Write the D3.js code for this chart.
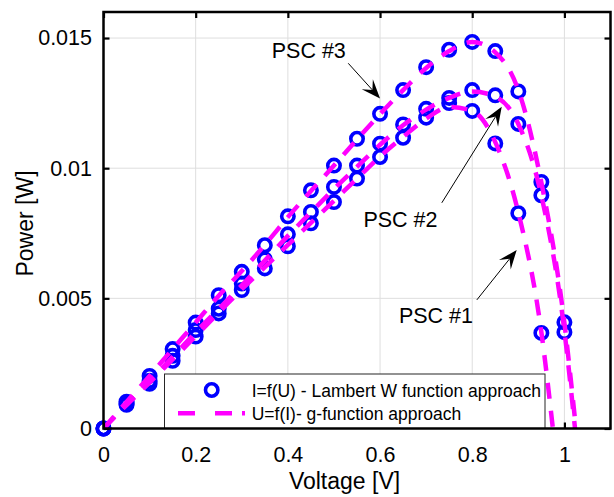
<!DOCTYPE html>
<html lang="en">
<head>
<meta charset="utf-8">
<title>PSC power curves</title>
<script src="https://d3js.org/d3.v7.min.js"></script>
<style>
	body {
		margin: 0;
		background: #fff;
	}
	svg {
		display: block;
		font-family: "Liberation Sans", Arial, sans-serif;
	}
	.grid line {
		stroke: #dedede;
		stroke-width: 1;
	}
</style>
</head>
<body>
<script>
	// measured voltages [V]
	var voltage = [0, 0.05, 0.1, 0.15, 0.2, 0.25, 0.3, 0.35, 0.4, 0.45, 0.5,
		0.55, 0.6, 0.65, 0.7, 0.75, 0.8, 0.85, 0.9, 0.95, 1.0];

	// power in mW, I=f(U) Lambert W approach (circles)
	var psc1 = [0, 0.91, 1.72, 2.6, 3.53, 4.42, 5.32, 6.15, 7.0, 7.88, 8.7,
		9.6, 10.43, 11.17, 11.94, 12.5, 12.2, 10.95, 8.27, 3.67];
	var psc2 = [0, 0.95, 1.83, 2.79, 3.78, 4.6, 5.57, 6.5, 7.46, 8.32, 9.28,
		10.1, 10.94, 11.68, 12.28, 12.7, 13.0, 12.8, 11.7, 8.96, 3.7];
	var psc3 = [0, 1.03, 2.02, 3.05, 4.07, 5.12, 6.02, 7.04, 8.15, 9.15, 10.1,
		11.13, 12.09, 13.0, 13.88, 14.55, 14.85, 14.5, 12.95, 9.47, 4.08];

	// U=f(I) g-function approach (dashed lines), mW
	var gV1 = [0, 0.05, 0.1, 0.15, 0.2, 0.25, 0.3, 0.35, 0.4, 0.45, 0.5,
		0.55, 0.6, 0.65, 0.7, 0.75, 0.8, 0.85, 0.9, 0.95, 0.975];
	var gP1 = [0, 0.9, 1.76, 2.65, 3.55, 4.45, 5.35, 6.2, 7.05, 7.9, 8.75,
		9.6, 10.45, 11.2, 11.9, 12.35, 12.2, 11.0, 8.3, 3.7, 0];
	var gV2 = [0, 0.05, 0.1, 0.15, 0.2, 0.25, 0.3, 0.35, 0.4, 0.45, 0.5,
		0.55, 0.6, 0.65, 0.7, 0.75, 0.8, 0.85, 0.9, 0.95, 1.0, 1.023];
	var gP2 = [0, 0.93, 1.82, 2.75, 3.7, 4.6, 5.5, 6.45, 7.4, 8.3, 9.2,
		10.05, 10.9, 11.65, 12.25, 12.7, 12.95, 12.75, 11.7, 8.95, 3.75, 0];
	var gV3 = [0, 0.05, 0.1, 0.15, 0.2, 0.25, 0.3, 0.35, 0.4, 0.45, 0.5,
		0.55, 0.6, 0.65, 0.7, 0.75, 0.8, 0.85, 0.9, 0.95, 1.0, 1.025];
	var gP3 = [0, 1.02, 2.02, 3.05, 4.07, 5.1, 6.05, 7.05, 8.12, 9.12, 10.1,
		11.1, 12.08, 13.0, 13.85, 14.5, 14.85, 14.45, 13.0, 9.45, 4.05, 0];

	var xTicks = [0, 0.2, 0.4, 0.6, 0.8, 1];
	var xTickLabels = ["0", "0.2", "0.4", "0.6", "0.8", "1"];
	var yTicks = [0, 5, 10, 15];
	var yTickLabels = ["0", "0.005", "0.01", "0.015"];

	// annotation anchors in data units [V, mW]
	var labels = [
		{ text: "PSC #3", at: [0.365, 14.22], from: [0.531, 14.03], tip: [0.600, 12.68] },
		{ text: "PSC #2", at: [0.564, 7.75], from: [0.734, 8.67], tip: [0.864, 12.36] },
		{ text: "PSC #1", at: [0.641, 4.06], from: [0.810, 4.94], tip: [0.8965, 6.86] }
	];

	var width = 614;
	var height = 497;

	var svg = d3.select("body")
		.append("svg")
		.attr("width", width)
		.attr("height", height);

	var x = d3.scaleLinear().domain([0, 1.1]).range([103.5, 610.5]);
	var y = d3.scaleLinear().domain([0, 16]).range([428.5, 12]);

	// grid
	var grid = svg.append("g").attr("class", "grid");
	grid.selectAll(".gx")
		.data(xTicks.slice(1))
		.enter().append("line")
		.attr("x1", d => x(d)).attr("x2", d => x(d))
		.attr("y1", y(16)).attr("y2", y(0));
	grid.selectAll(".gy")
		.data(yTicks.slice(1))
		.enter().append("line")
		.attr("x1", x(0)).attr("x2", x(1.1))
		.attr("y1", d => y(d)).attr("y2", d => y(d));

	svg.append("clipPath").attr("id", "plot")
		.append("rect")
		.attr("x", x(0)).attr("y", y(16))
		.attr("width", x(1.1) - x(0)).attr("height", y(0) - y(16));

	// circles (markers are not clipped, like the original)
	var marks = svg.append("g");
	[psc1, psc2, psc3].forEach(function(series) {
		marks.selectAll(null)
			.data(series)
			.enter().append("circle")
			.attr("cx", (d, i) => x(voltage[i]))
			.attr("cy", d => y(d))
			.attr("r", 6.2)
			.attr("fill", "none")
			.attr("stroke", "#0000ff")
			.attr("stroke-width", 3.6);
	});

	// dashed g-function lines
	var line = d3.line()
		.x(d => x(d[0]))
		.y(d => y(d[1]))
		.curve(d3.curveMonotoneX);

	var lines = svg.append("g").attr("clip-path", "url(#plot)");
	[[gV1, gP1], [gV2, gP2], [gV3, gP3]].forEach(function(s) {
		lines.append("path")
			.datum(d3.zip(s[0], s[1]))
			.attr("d", line)
			.attr("fill", "none")
			.attr("stroke", "#ff00ff")
			.attr("stroke-width", 4.5)
			.attr("stroke-dasharray", "16,12");
	});

	// axes, ticks inward on all four sides
	var fontSize = 21.5;
	var axB = d3.axisBottom(x).tickValues(xTicks).tickSize(-6).tickPadding(18.6)
		.tickFormat((d, i) => xTickLabels[i]);
	var axT = d3.axisTop(x).tickValues(xTicks).tickSize(-6).tickFormat("");
	var axL = d3.axisLeft(y).tickValues(yTicks).tickSize(-6).tickPadding(11.5)
		.tickFormat((d, i) => yTickLabels[i]);
	var axR = d3.axisRight(y).tickValues(yTicks).tickSize(-6).tickFormat("");

	function styleAxis(g) {
		g.select(".domain").remove();
		g.selectAll(".tick line").attr("stroke", "#000").attr("stroke-width", 2.2);
		g.selectAll("text").attr("fill", "#000").attr("font-size", fontSize)
			.attr("font-family", "Liberation Sans, Arial, sans-serif");
	}

	svg.append("g").attr("transform", "translate(0," + y(0) + ")").call(axB).call(styleAxis);
	svg.append("g").attr("transform", "translate(0," + y(16) + ")").call(axT).call(styleAxis);
	svg.append("g").attr("transform", "translate(" + x(0) + ",0)").call(axL).call(styleAxis);
	svg.append("g").attr("transform", "translate(" + x(1.1) + ",0)").call(axR).call(styleAxis);

	// legend
	var legend = svg.append("g");
	legend.append("rect")
		.attr("x", 164.5).attr("y", 374)
		.attr("width", 380.5).attr("height", 54.5)
		.attr("fill", "#fff")
		.attr("stroke", "#262626")
		.attr("stroke-width", 1);
	legend.append("circle")
		.attr("cx", 211.7).attr("cy", 390).attr("r", 6.2)
		.attr("fill", "none").attr("stroke", "#0000ff").attr("stroke-width", 3.6);
	legend.append("line")
		.attr("x1", 178).attr("x2", 245)
		.attr("y1", 413.3).attr("y2", 413.3)
		.attr("stroke", "#ff00ff").attr("stroke-width", 4.5)
		.attr("stroke-dasharray", "17,20,17,10,3,100");
	legend.append("text")
		.attr("x", 251.7).attr("y", 396.8)
		.attr("font-size", 17.5)
		.text("I=f(U) - Lambert W function approach");
	legend.append("text")
		.attr("x", 251.7).attr("y", 419.8)
		.attr("font-size", 17.5)
		.text("U=f(I)- g-function approach");

	// box
	svg.append("rect")
		.attr("x", x(0)).attr("y", y(16))
		.attr("width", x(1.1) - x(0)).attr("height", y(0) - y(16))
		.attr("fill", "none")
		.attr("stroke", "#000")
		.attr("stroke-width", 2.5);

	// axis titles
	svg.append("text")
		.attr("x", 344.5).attr("y", 489)
		.attr("text-anchor", "middle")
		.attr("font-size", 23)
		.text("Voltage [V]");
	svg.append("text")
		.attr("transform", "translate(33.3,223.5) rotate(-90)")
		.attr("text-anchor", "middle")
		.attr("font-size", 23)
		.text("Power [W]");

	// annotations with arrows
	var notes = svg.append("g");
	labels.forEach(function(a) {
		notes.append("text")
			.attr("x", x(a.at[0])).attr("y", y(a.at[1]))
			.attr("font-size", fontSize)
			.text(a.text);

		var x0 = x(a.from[0]), y0 = y(a.from[1]);
		var x1 = x(a.tip[0]), y1 = y(a.tip[1]);
		var dx = x1 - x0, dy = y1 - y0;
		var len = Math.sqrt(dx * dx + dy * dy);
		var ux = dx / len, uy = dy / len, nx = -uy, ny = ux;
		var L = 19, W = 7.5, B = L * 0.6;

		notes.append("line")
			.attr("x1", x0).attr("y1", y0)
			.attr("x2", x1 - B * ux).attr("y2", y1 - B * uy)
			.attr("stroke", "#000").attr("stroke-width", 1);
		notes.append("path")
			.attr("d", "M" + x1 + "," + y1 +
				"L" + (x1 - L * ux + W * nx) + "," + (y1 - L * uy + W * ny) +
				"L" + (x1 - B * ux) + "," + (y1 - B * uy) +
				"L" + (x1 - L * ux - W * nx) + "," + (y1 - L * uy - W * ny) + "Z")
			.attr("fill", "#000");
	});
</script>
</body>
</html>
